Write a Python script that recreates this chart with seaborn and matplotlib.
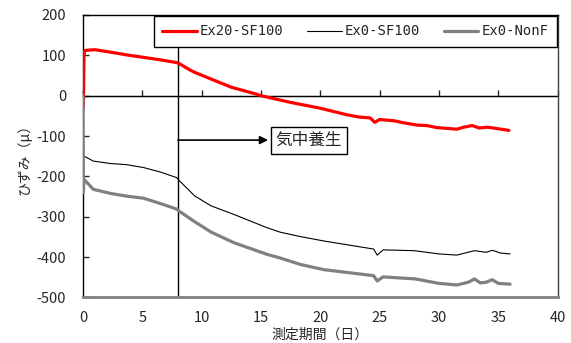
import matplotlib
matplotlib.use("Agg")
import matplotlib.pyplot as plt
import seaborn as sns
import pandas as pd

# ---- data ----
t_red = [0, 0.03, 0.08, 0.15, 0.5, 1.0, 2.3, 3.7, 5.1, 6.5, 7.9, 8.2, 9.0, 9.4,
         10.9, 12.5, 14.6, 15.0, 17.4, 20.0, 22.2, 23.3, 24.2, 24.6, 25.0, 26.2,
         27.0, 28.2, 29.0, 29.8, 30.7, 31.5, 32.1, 32.8, 33.4, 34.1, 34.8, 35.9]
v_red = [0, -30, 100, 112, 113, 114, 108, 101, 95, 89, 82, 78, 64, 58,
         40, 21, 4, 0, -16, -31, -47, -53, -55, -66, -59, -62,
         -67, -73, -74, -79, -81, -83, -78, -74, -80, -78, -81, -86]

t_blk = [0, 0.05, 0.1, 0.87, 2.3, 3.7, 5.1, 6.5, 7.9, 8.1, 9.4, 9.9, 10.8, 12.7,
         15.5, 16.6, 18.3, 20.3, 24.5, 24.8, 25.3, 27.9, 30, 31.5, 33, 34, 34.5,
         35.2, 36]
v_blk = [0, -148, -150, -162, -168, -171, -178, -189, -203, -210, -248, -257, -273, -294,
         -327, -338, -349, -360, -380, -395, -382, -384, -392, -395, -384, -388, -383,
         -390, -392]

t_gry = [0, 0.03, 0.08, 0.87, 2.3, 3.7, 5.1, 6.5, 7.9, 8.1, 9.4, 10.8, 12.7,
         15.5, 16.6, 18.3, 20.3, 24.5, 24.8, 25.3, 28, 30, 31.5, 32.5, 33, 33.5,
         34, 34.5, 35, 36]
v_gry = [0, -240, -207, -232, -242, -249, -254, -267, -281, -286, -312, -338, -364,
         -393, -402, -418, -431, -446, -459, -449, -454, -465, -469, -462, -454, -464,
         -462, -456, -465, -467]

names = ["Ex20-SF100", "Ex0-SF100", "Ex0-NonF"]
colors = ["#ff0000", "#000000", "#808080"]
widths = [2.3, 0.8, 2.3]
x_ticks = [0, 5, 10, 15, 20, 25, 30, 35, 40]
y_ticks = [200, 100, 0, -100, -200, -300, -400, -500]

sns.set_style("white")
plt.rcParams['font.family'] = ['Noto Sans CJK JP', 'DejaVu Sans']
plt.rcParams['axes.unicode_minus'] = False

fig = plt.figure(figsize=(5.71, 3.43), dpi=100)
ax = fig.add_axes([0.1454, 0.1327, 0.8310, 0.8236])

series = [(t_red, v_red), (t_blk, v_blk), (t_gry, v_gry)]
for (tt, vv), nm, c, w in zip(series, names, colors, widths):
    df = pd.DataFrame({"t": tt, "v": vv})
    sns.lineplot(data=df, x="t", y="v", ax=ax, color=c, linewidth=w,
                 label=nm, sort=False, estimator=None, zorder=3)

ax.set_xlim(0, 40)
ax.set_ylim(-500, 200)
ax.set_xticks(x_ticks)
ax.set_yticks(y_ticks)
ax.tick_params(axis='x', length=0, labelsize=10.5, pad=10)
ax.tick_params(axis='y', direction='in', length=4, width=1, labelsize=10.5, pad=12,
               left=True)

for s in ['top', 'left']:
    ax.spines[s].set_color('black')
    ax.spines[s].set_linewidth(1.0)
ax.spines['right'].set_color('#404040')
ax.spines['right'].set_linewidth(1.0)
ax.spines['bottom'].set_color('#808080')
ax.spines['bottom'].set_linewidth(2.0)

# x axis crossing at 0
ax.axhline(0, color='black', linewidth=1.0, zorder=2)
sec = ax.secondary_xaxis(5 / 7)
sec.set_xticks(x_ticks)
sec.xaxis.set_ticks_position('top')
sec.tick_params(axis='x', direction='out', length=4, width=1, labeltop=False,
                labelbottom=False)

# vertical line at day 8
ax.axvline(8, color='black', linewidth=1.0, zorder=2)

# arrow from the line to the box, then the box
ax.annotate("", xy=(15.6, -110), xytext=(8, -110),
            arrowprops=dict(arrowstyle='-|>', color='black', lw=1.2,
                            shrinkA=0, shrinkB=0, mutation_scale=12),
            zorder=4)
ax.text(19.05, -110, "気中養生", ha='center', va='center', fontsize=12,
        bbox=dict(boxstyle='square,pad=0.3', fc='white', ec='black', lw=1),
        zorder=4)

ax.set_xlabel("測定期間（日）", fontsize=10, labelpad=2)
ax.set_ylabel("ひずみ（μ）", fontsize=10, labelpad=4)

leg = ax.legend(ncol=3, loc='upper right', bbox_to_anchor=(0.998, 0.996),
                borderaxespad=0.0,
                frameon=True, fancybox=False, edgecolor='black', framealpha=1,
                prop={'family': 'DejaVu Sans Mono', 'size': 10},
                handlelength=2.5, handletextpad=0.2,
                columnspacing=1.7, borderpad=0.6)
leg.get_frame().set_linewidth(1.0)
leg.set_zorder(10)

fig.savefig("out.png", dpi=100)
